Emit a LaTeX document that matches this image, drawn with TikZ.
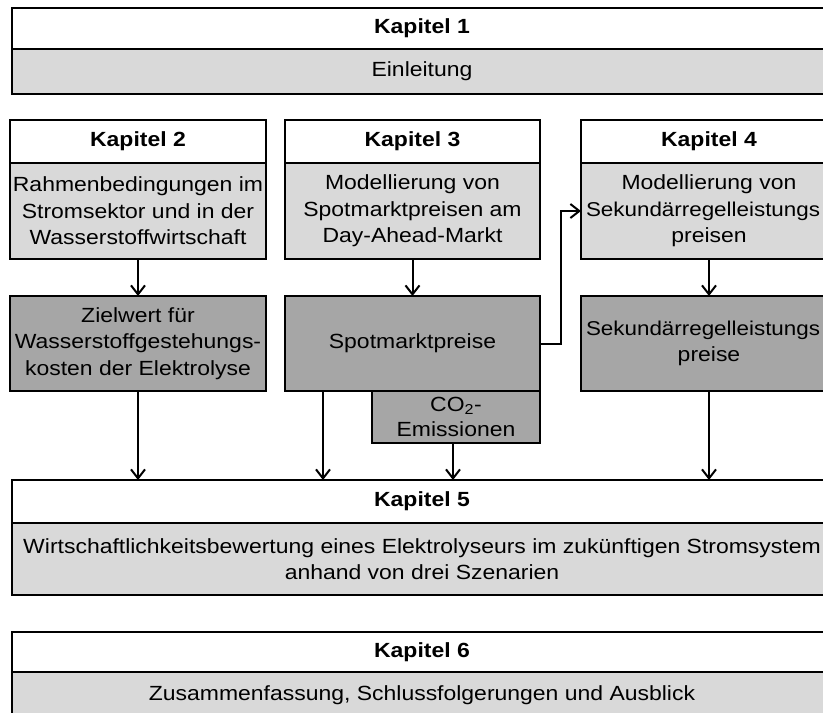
\documentclass[tikz,border=0pt]{standalone}
\usepackage{fontspec}
\setmainfont{Liberation Sans}[FakeStretch=1.12]
\usetikzlibrary{arrows.meta}

\definecolor{bodygray}{HTML}{D9D9D9}
\definecolor{boxgray}{HTML}{A6A6A6}

% long compound word in the chapter 4 boxes, set slightly smaller and left-aligned
\newcommand{\srlword}{\makebox[246pt][l]{\fontsize{20}{26.5}\selectfont Sekundärregelleistungs}}

\tikzset{
  cell/.style={draw=black, line width=1.5pt, inner sep=0pt, outer sep=0pt,
    anchor=north west, align=center, font=\fontsize{20.5}{26.5}\selectfont},
  head/.style={cell, fill=white, font=\fontsize{20.5}{26.5}\selectfont\bfseries},
  light/.style={cell, fill=bodygray},
  dark/.style={cell, fill=boxgray},
  arr/.style={line width=2pt, -{Straight Barb[length=9pt,width=14pt]}}
}

\begin{document}
\begin{tikzpicture}[x=1pt, y=-1pt]
  \useasboundingbox (0,0) rectangle (823,713);
  \clip (0,0) rectangle (823,713);

  % Chapter 1
  \node[head,  minimum width=820pt, minimum height=41pt] (k1h) at (12,8) {Kapitel 1};
  \node[light, minimum width=820pt, minimum height=45pt] (k1b) at (12,49) {Einleitung};

  % Chapters 2--4
  \node[head,  minimum width=256pt, minimum height=43pt] (k2h) at (10,120) {Kapitel 2};
  \node[light, minimum width=256pt, minimum height=96pt] (k2b) at (10,163)
    {Rahmenbedingungen im\\Stromsektor und in der\\Wasserstoffwirtschaft};
  \node[head,  minimum width=255pt, minimum height=43pt] (k3h) at (285,120) {Kapitel 3};
  \node[light, minimum width=255pt, minimum height=96pt] (k3b) at (285,163)
    {Modellierung von\\Spotmarktpreisen am\\Day-Ahead-Markt};
  \node[head,  minimum width=256pt, minimum height=43pt] (k4h) at (581,120) {Kapitel 4};
  \node[light, minimum width=256pt, minimum height=96pt] (k4b) at (581,163)
    {Modellierung von\\\srlword\\preisen};

  % Results of chapters 2--4
  \node[dark, minimum width=256pt, minimum height=95pt] (g2) at (10,296)
    {Zielwert für\\Wasserstoffgestehungs-\\kosten der Elektrolyse};
  \node[dark, minimum width=255pt, minimum height=95pt] (g3) at (285,296) {Spotmarktpreise};
  \node[dark, minimum width=168pt, minimum height=52pt] (co2) at (372,391)
    {CO\textsubscript{2}-\\[-2pt]Emissionen};
  \node[dark, minimum width=256pt, minimum height=95pt] (g4) at (581,296)
    {\srlword\\preise};

  % Chapter 5
  \node[head,  minimum width=820pt, minimum height=43pt] (k5h) at (12,480) {Kapitel 5};
  \node[light, minimum width=820pt, minimum height=72pt] (k5b) at (12,523)
    {Wirtschaftlichkeitsbewertung eines Elektrolyseurs im zukünftigen Stromsystem\\anhand von drei Szenarien};

  % Chapter 6
  \node[head,  minimum width=820pt, minimum height=40pt] (k6h) at (12,632) {Kapitel 6};
  \node[light, minimum width=820pt, minimum height=46pt] (k6b) at (12,672)
    {Zusammenfassung, Schlussfolgerungen und Ausblick};

  % Connectors
  \draw[arr] (k2b.south) -- (g2.north);
  \draw[arr] (k3b.south) -- (g3.north);
  \draw[arr] (k4b.south) -- (g4.north);
  \draw[arr] (g3.east) -- ++(21,0) |- (k4b.west);

  \draw[arr] (g2.south) -- (g2.south |- k5h.north);
  \coordinate (spotout) at ([xshift=38pt]g3.south west);
  \draw[arr] (spotout) -- (spotout |- k5h.north);
  \coordinate (co2out) at ([xshift=-3pt]co2.south);
  \draw[arr] (co2out) -- (co2out |- k5h.north);
  \draw[arr] (g4.south) -- (g4.south |- k5h.north);
\end{tikzpicture}
\end{document}
